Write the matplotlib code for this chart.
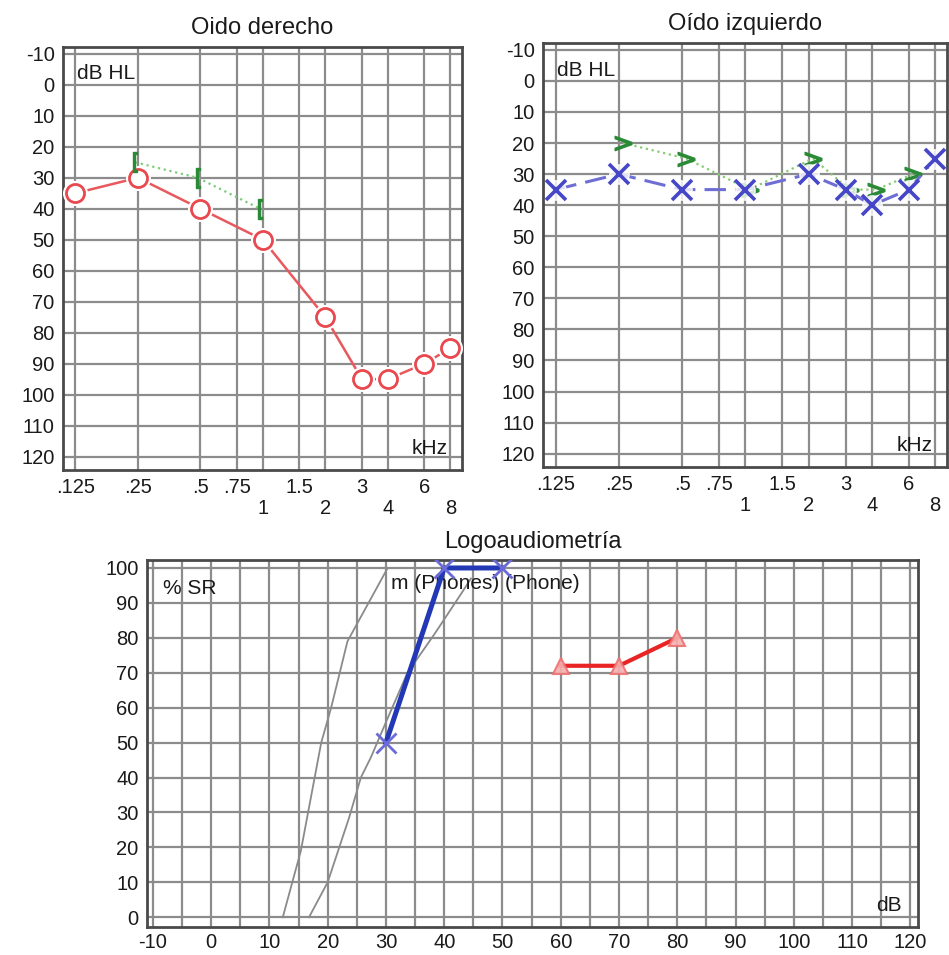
import matplotlib
matplotlib.use("Agg")
import matplotlib.pyplot as plt
from matplotlib.transforms import ScaledTranslation, blended_transform_factory

plt.rcParams['font.family'] = ['Liberation Sans', 'DejaVu Sans']
plt.rcParams['axes.unicode_minus'] = False

# frecuencias del audiograma (kHz)
FREQS = [0.125, 0.25, 0.5, 0.75, 1, 1.5, 2, 3, 4, 6, 8]
FREQ_UP = [0.125, 0.25, 0.5, 0.75, 1.5, 3, 6]
FREQ_UP_LABELS = [".125", ".25", ".5", ".75", "1.5", "3", "6"]
FREQ_LOW = [1, 2, 4, 8]
FREQ_LOW_LABELS = ["1", "2", "4", "8"]
DB_TICKS = list(range(-10, 121, 10))

# oido derecho
right_air_f = [0.125, 0.25, 0.5, 1, 2, 3, 4, 6, 8]
right_air_db = [35, 30, 40, 50, 75, 95, 95, 90, 85]
right_bone_f = [0.25, 0.5, 1]
right_bone_db = [25, 30, 40]

# oido izquierdo
left_air_f = [0.125, 0.25, 0.5, 1, 2, 3, 4, 6, 8]
left_air_db = [35, 30, 35, 35, 30, 35, 40, 35, 25]
left_bone_f = [0.25, 0.5, 1, 2, 3, 4, 6]
left_bone_db = [20, 25, 35, 25, 35, 35, 30]

# logoaudiometria
logo_blue_db = [30, 40, 50]
logo_blue_pct = [50, 100, 100]
logo_red_db = [60, 70, 80]
logo_red_pct = [72, 72, 80]
norm1_db = [12.3, 15.4, 18.9, 20.6, 23.4, 25.7, 30.3]
norm1_pct = [0, 19, 50, 60, 79, 86, 100]
norm2_db = [16.8, 20, 23.7, 25.7, 27.4, 30.3, 33.7, 38.3, 42.9, 44.6]
norm2_pct = [0, 10, 28.6, 40, 45.7, 57, 70, 81, 92.6, 97]

GRID = '#8c8c8c'
EDGE = '#4a4a4a'
TXT = '#1a1a1a'
FS = 14.5      # ticks
FS_IN = 15     # textos dentro del grafico
FS_T = 17      # titulos


def audiogram_frame(ax, title):
    ax.set_xscale('log')
    ax.set_xlim(0.109, 9.1)
    ax.set_ylim(124.3, -12.2)
    ax.set_xticks(FREQ_UP, FREQ_UP_LABELS)
    ax.set_xticks(FREQ_LOW, FREQ_LOW_LABELS, minor=True)
    ax.set_yticks(DB_TICKS)
    ax.tick_params(which='both', length=0, labelsize=FS, colors=TXT)
    ax.tick_params(axis='x', which='major', pad=6)
    ax.tick_params(axis='x', which='minor', pad=21)
    ax.tick_params(axis='y', pad=6)
    ax.grid(True, which='both', color=GRID, lw=1.6)
    ax.set_axisbelow(True)
    for s in ax.spines.values():
        s.set_color(EDGE)
        s.set_linewidth(2)
    ax.set_title(title, fontsize=FS_T, color=TXT, pad=9)
    tr = blended_transform_factory(ax.transAxes, ax.transData)
    ax.text(0.035, -3.5, "dB HL", transform=tr, fontsize=FS_IN, color=TXT, va='center')
    ax.text(0.965, 117.5, "kHz", transform=tr, fontsize=FS_IN, color=TXT, va='center', ha='right')


fig = plt.figure(figsize=(9.49, 9.55), dpi=100)

# 1. Oido derecho
ax1 = fig.add_axes([0.0664, 0.5079, 0.4204, 0.4429])
audiogram_frame(ax1, "Oido derecho")
ax1.plot(right_air_f, right_air_db, color='#e8585c', lw=1.8, zorder=3)
ax1.plot(right_air_f, right_air_db, 'o', ms=17, color='white', zorder=4)
ax1.plot(right_air_f, right_air_db, 'o', ms=13, mfc='white', mec='#e8484e', mew=2, zorder=5)
off_l = ax1.transData + ScaledTranslation(-2 / 72, 0, fig.dpi_scale_trans)
ax1.plot(right_bone_f, right_bone_db, ':', color='#7ccc7c', lw=1.6, transform=off_l, zorder=3)
ax1.plot(right_bone_f, right_bone_db, ls='none', marker='$[$', ms=14, color='#2a8a36',
         transform=off_l, zorder=5)

# 2. Oido izquierdo
ax2 = fig.add_axes([0.5722, 0.511, 0.4257, 0.444])
audiogram_frame(ax2, "Oído izquierdo")
off_r = ax2.transData + ScaledTranslation(3 / 72, 0, fig.dpi_scale_trans)
ax2.plot(left_bone_f, left_bone_db, ':', color='#86cc70', lw=1.6, transform=off_r, zorder=3)
ax2.plot(left_bone_f, left_bone_db, ls='none', marker='$>$', ms=12, color='#2a8a36',
         transform=off_r, zorder=4)
ax2.plot(left_air_f, left_air_db, '--', dashes=(7, 3), color='#6e6ed4', lw=2.2, zorder=5)
ax2.plot(left_air_f, left_air_db, 'o', ms=14, color='white', alpha=0.8, zorder=6)
ax2.plot(left_air_f, left_air_db, 'x', ms=15, mew=2.6, color='#4646c8', zorder=7)

# 3. Logoaudiometria
ax3 = fig.add_axes([0.1549, 0.0293, 0.8124, 0.384])
ax3.set_xlim(-11, 121.3)
ax3.set_ylim(-2.8, 102.2)
ax3.set_xticks(list(range(-10, 121, 10)))
ax3.set_xticks(list(range(-5, 120, 10)), minor=True)
ax3.set_yticks(list(range(0, 101, 10)))
ax3.tick_params(which='both', length=0, labelsize=FS, colors=TXT)
ax3.tick_params(axis='x', pad=4)
ax3.tick_params(axis='y', pad=6)
ax3.grid(True, which='both', color=GRID, lw=1.6)
ax3.set_axisbelow(True)
for s in ax3.spines.values():
    s.set_color(EDGE)
    s.set_linewidth(2)
ax3.set_title("Logoaudiometría", fontsize=FS_T, color=TXT, pad=9)
ax3.text(-8.2, 94, "% SR", fontsize=FS_IN, color=TXT, va='center')
ax3.text(118.5, 3.5, "dB", fontsize=FS_IN, color=TXT, va='center', ha='right')

ax3.plot(norm1_db, norm1_pct, color='#8a8a8a', lw=1.3, zorder=3)
ax3.plot(norm2_db, norm2_pct, color='#8a8a8a', lw=1.3, zorder=3)
ax3.text(30.8, 95.5, "m (Phones) (Phone)", fontsize=FS_IN, color=TXT, va='center', zorder=4)
ax3.plot(logo_blue_db, logo_blue_pct, color='#2238b4', lw=3.6, zorder=5)
ax3.plot(logo_blue_db, logo_blue_pct, 'x', ms=15, mew=2, color='#6a6ad8', zorder=6)
ax3.plot(logo_red_db, logo_red_pct, color='#e82424', lw=3, zorder=5)
ax3.plot(logo_red_db, logo_red_pct, '^', ms=11, mfc='#f6b0b0', mec='#f07070', mew=1.5,
         alpha=0.9, zorder=6)

plt.savefig("out.png", dpi=100, facecolor='white')
